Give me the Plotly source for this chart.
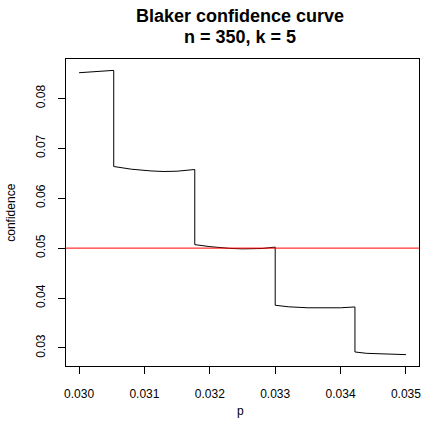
import plotly.graph_objects as go

# Blaker confidence curve (n = 350, k = 5)
p_vals = [0.03000, 0.03015, 0.03030, 0.03045, 0.03053,
          0.03053, 0.03080, 0.03110, 0.03130, 0.03150, 0.03177,
          0.03177, 0.03200, 0.03230, 0.03250, 0.03280, 0.03300,
          0.03300, 0.03320, 0.03350, 0.03375, 0.03400, 0.03422,
          0.03422, 0.03440, 0.03470, 0.03500]
conf_vals = [0.08512, 0.08522, 0.08533, 0.08547, 0.08559,
             0.06634, 0.06580, 0.06545, 0.06534, 0.06540, 0.06574,
             0.05070, 0.05030, 0.04995, 0.04985, 0.04992, 0.05020,
             0.03856, 0.03825, 0.03805, 0.03800, 0.03805, 0.03822,
             0.02920, 0.02893, 0.02875, 0.02867]
alpha = 0.05
x_ticks = [0.030, 0.031, 0.032, 0.033, 0.034, 0.035]
x_tick_labels = ["0.030", "0.031", "0.032", "0.033", "0.034", "0.035"]
y_ticks = [0.03, 0.04, 0.05, 0.06, 0.07, 0.08]
y_tick_labels = ["0.03", "0.04", "0.05", "0.06", "0.07", "0.08"]
title_lines = ["Blaker confidence curve", "n = 350, k = 5"]

FONT = "Liberation Sans, Arial, sans-serif"

xmin, xmax = min(p_vals), max(p_vals)
ymin, ymax = min(conf_vals), max(conf_vals)
xpad = 0.04 * (xmax - xmin)
ypad = 0.04 * (ymax - ymin)

fig = go.Figure()
fig.add_trace(go.Scatter(x=p_vals, y=conf_vals, mode="lines",
                         line=dict(color="black", width=1), showlegend=False,
                         hoverinfo="skip"))
fig.add_shape(type="line", xref="paper", x0=0, x1=1, yref="y", y0=alpha, y1=alpha,
              line=dict(color="red", width=1))

axis_common = dict(showline=True, linecolor="black", linewidth=1, mirror=True,
                   ticks="outside", ticklen=7, tickcolor="black", tickwidth=1,
                   showgrid=False, zeroline=False,
                   tickfont=dict(family=FONT, size=12, color="black"))

fig.update_xaxes(range=[xmin - xpad, xmax + xpad], tickvals=x_ticks,
                 ticktext=x_tick_labels, ticklabelstandoff=10, **axis_common)
fig.update_yaxes(range=[ymin - ypad, ymax + ypad], tickvals=y_ticks,
                 ticktext=y_tick_labels, tickangle=-90, ticklabelstandoff=8,
                 **axis_common)

annotations = [
    dict(text="<b>%s</b>" % title_lines[0], x=0.4937, y=1.14, xref="paper", yref="paper",
         xanchor="center", yanchor="middle", showarrow=False,
         font=dict(family=FONT, size=18, color="black")),
    dict(text="<b>%s</b>" % title_lines[1], x=0.4937, y=1.072, xref="paper", yref="paper",
         xanchor="center", yanchor="middle", showarrow=False,
         font=dict(family=FONT, size=18, color="black")),
    dict(text="p", x=0.4937, y=-0.145, xref="paper", yref="paper",
         xanchor="center", yanchor="middle", showarrow=False,
         font=dict(family=FONT, size=12, color="black")),
    dict(text="confidence", x=-0.158, y=0.5, xref="paper", yref="paper",
         xanchor="center", yanchor="middle", showarrow=False, textangle=-90,
         font=dict(family=FONT, size=12, color="black")),
]

fig.update_layout(width=425, height=429, autosize=False,
                  margin=dict(l=66, r=4, t=59, b=63, pad=0),
                  paper_bgcolor="white", plot_bgcolor="white",
                  annotations=annotations)

fig.write_html("out.html")
